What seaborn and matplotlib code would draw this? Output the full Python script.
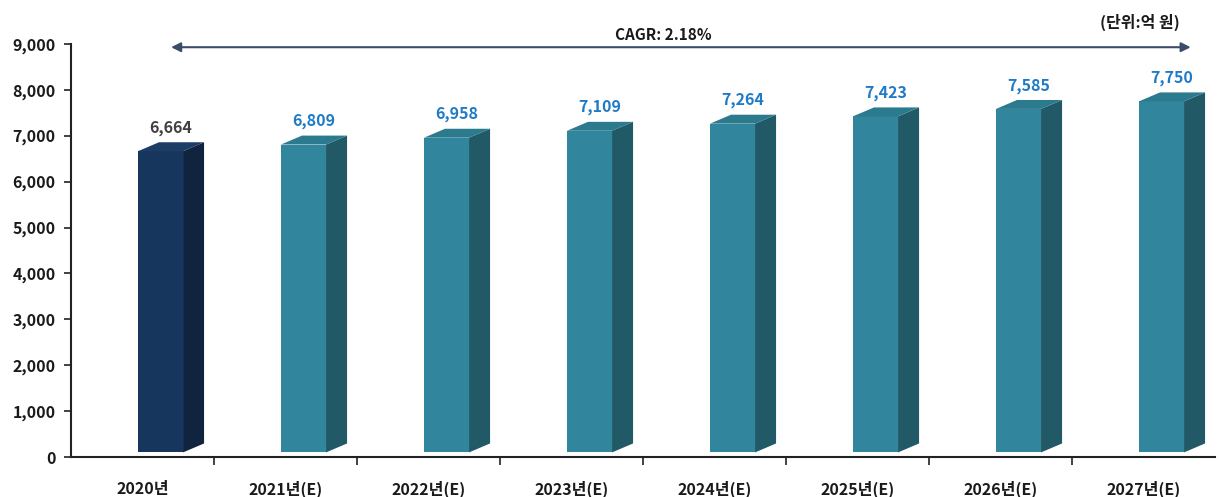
import numpy as np
import pandas as pd
import matplotlib
matplotlib.use('Agg')
import matplotlib.pyplot as plt
from matplotlib.patches import Polygon
import seaborn as sns

# Data
years = ['2020년', '2021년(E)', '2022년(E)', '2023년(E)', '2024년(E)', '2025년(E)', '2026년(E)', '2027년(E)']
values = [6664, 6809, 6958, 7109, 7264, 7423, 7585, 7750]
cagr_text = 'CAGR: 2.18%'
unit_text = '(단위:억 원)'

# Styles
front_colors = ['#17365D'] + ['#31859C'] * 7
side_colors = ['#10243F'] + ['#215967'] * 7
top_colors = ['#1B3D66'] + ['#2C7A8E'] * 7
label_colors = ['#404040'] + ['#1F7BC6'] * 7

sns.set_style('white')
plt.rcParams['font.family'] = ['Noto Sans CJK KR', 'DejaVu Sans']

df = pd.DataFrame({'year': years, 'value': values})

fig = plt.figure(figsize=(12.21, 4.97), dpi=100)
ax = fig.add_axes([71 / 1221, 1 - 457 / 497, (1215 - 71) / 1221, (457 - 44) / 497])

bar_w = 0.315
shift = 0.126
base = 100
dx = 0.147
dy = 195

sns.barplot(data=df, x='year', y='value', hue='year', palette=front_colors,
            legend=False, width=bar_w, ax=ax, linewidth=0, saturation=1)

for i, p in enumerate(ax.patches[:len(values)]):
    x0 = p.get_x() + shift
    h = p.get_height()
    p.set_x(x0)
    p.set_y(base)
    p.set_height(h - base)
    x1 = x0 + bar_w
    side = Polygon([(x1, base), (x1 + dx, base + dy), (x1 + dx, h + dy), (x1, h)],
                   closed=True, facecolor=side_colors[i], edgecolor='none')
    top = Polygon([(x0, h), (x0 + dx, h + dy), (x1 + dx, h + dy), (x1, h)],
                  closed=True, facecolor=top_colors[i], edgecolor='none')
    ax.add_patch(side)
    ax.add_patch(top)
    ax.text(x0 + (bar_w + dx) / 2, h + dy + 140, f'{values[i]:,}', ha='center', va='bottom',
            fontsize=11.5, fontweight='bold', color=label_colors[i])

ax.set_xlim(-0.5, 7.5)
ax.set_ylim(0, 9000)
ax.set_yticks(np.arange(0, 9001, 1000))
ax.set_yticklabels([f'{v:,}' for v in range(0, 9001, 1000)], fontsize=11.5, fontweight='bold', color='#1A1A1A')
ax.set_xticks(range(len(years)))
ax.set_xticklabels(years, fontsize=11.5, fontweight='bold', color='#1A1A1A')
ax.set_xticks(np.arange(0.5, 7.5, 1), minor=True)
ax.tick_params(axis='x', which='both', bottom=True)
ax.tick_params(axis='x', which='major', length=0, pad=17)
ax.tick_params(axis='x', which='minor', length=6, width=1.2, color='#222222', direction='out')
ax.tick_params(axis='y', left=True, length=5, width=1.2, color='#222222', direction='out', pad=6)
ax.set_xlabel('')
ax.set_ylabel('')

for s in ['top', 'right']:
    ax.spines[s].set_visible(False)
for s in ['left', 'bottom']:
    ax.spines[s].set_color('#222222')
    ax.spines[s].set_linewidth(1.5)

# CAGR arrow
ax.annotate('', xy=(0.2, 8930), xytext=(7.33, 8930),
            arrowprops=dict(arrowstyle='<|-|>', color='#3B4D6B', lw=1.5, mutation_scale=14,
                            shrinkA=0, shrinkB=0))
ax.text(3.64, 9020, cagr_text, ha='center', va='bottom', fontsize=11, fontweight='bold',
        color='#1A1A1A', clip_on=False)

fig.text(1140 / 1221, 1 - 22 / 497, unit_text, ha='center', va='center',
         fontsize=11.5, fontweight='bold', color='#1A1A1A')

fig.savefig('out.png', dpi=100)
